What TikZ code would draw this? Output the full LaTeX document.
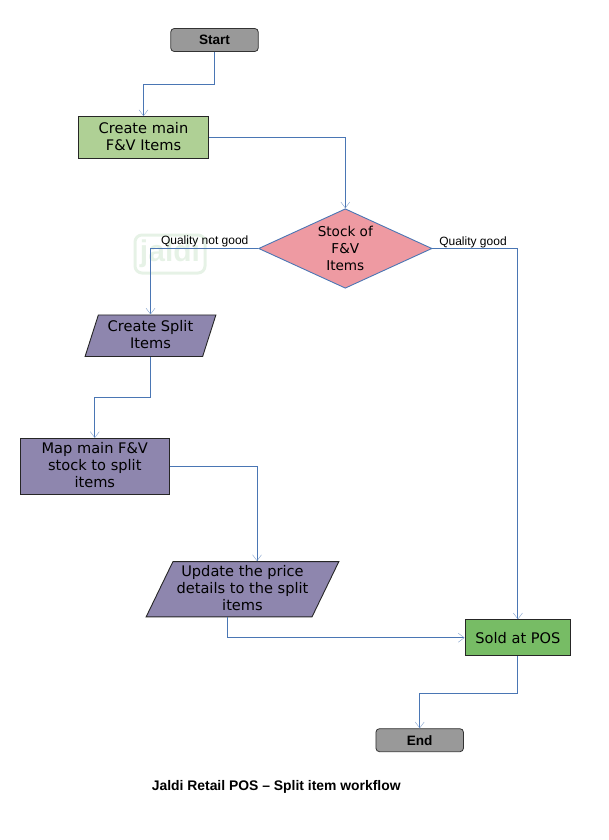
\documentclass[tikz,border=0pt]{standalone}
\usepackage{fontspec}
\setmainfont{Liberation Sans}
\newfontfamily\boxfont{DejaVu Sans}
\usepackage{tikz}
\usetikzlibrary{arrows.meta}
\usetikzlibrary{positioning}
\usetikzlibrary{shapes.geometric}
\definecolor{flowblue}{HTML}{4A76B4}
\definecolor{startgray}{HTML}{999999}
\definecolor{itemgreen}{HTML}{AFD095}
\definecolor{stockpink}{HTML}{EE9AA2}
\definecolor{splitpurple}{HTML}{8E86AE}
\definecolor{soldgreen}{HTML}{77BC65}
\definecolor{markgreen}{HTML}{E6F2E6}
\tikzset{
    flow/.style = {draw=flowblue, line width=0.9pt, -{Straight Barb[length=6pt,width=9pt,line width=0.4pt,color=flowblue!70]}},
    every node/.style = {inner sep=0pt, on grid},
}
\tikzset{
    terminal/.style={draw=black!80, fill=startgray, rounded corners=3.5pt, minimum width=87.5pt, minimum height=23pt, line width=0.8pt, font=\fontsize{13.6}{16}\selectfont\bfseries},
    itembox/.style={draw=black!85, line width=0.9pt, align=center, text depth=2pt, font=\boxfont\fontsize{14.6}{16.8}\selectfont},
    slanted/.style={itembox, shape=trapezium, trapezium stretches=true, fill=splitpurple},
    edgelabel/.style={font=\fontsize{12}{14}\selectfont},
}
\begin{document}
\begin{tikzpicture}[x=1pt,y=1pt]
    \useasboundingbox (0,0) rectangle (608,-840);
    % faint mark behind the flow
    \node(mark) at (170,-254) [draw=markgreen, line width=3pt, rounded corners=7pt, minimum width=70pt, minimum height=38pt, text=markgreen, font=\fontsize{30}{30}\selectfont\bfseries] {jaldi};
    \node(start)[terminal] at (214.5,-40) {Start};
    \node(createmain)[itembox, fill=itemgreen, minimum width=130.5pt, minimum height=41.5pt, below left=97.3pt and 71pt of start] {Create main\\F\&V Items};
    \node(stock)[diamond, draw=flowblue, fill=stockpink, line width=0.9pt, minimum width=173.4pt, minimum height=79.5pt, align=center, aspect=2.17, font=\boxfont\fontsize{13.6}{16.8}\selectfont, below right=111.2pt and 201.8pt of createmain] {Stock of\\F\&V\\Items};
    \node(createsplit)[slanted, trapezium left angle=70, trapezium right angle=110, minimum width=131pt, minimum height=41.5pt, below left=87.2pt and 194.8pt of stock] {Create Split\\Items};
    \node(mapstock)[itembox, fill=splitpurple, minimum width=149.5pt, minimum height=55.5pt, below left=130.5pt and 55.7pt of createsplit] {Map main F\&V\\stock to split\\items};
    \node(update)[slanted, trapezium left angle=61.4, trapezium right angle=118.6, minimum width=193pt, minimum height=55.3pt, below right=123pt and 147.7pt of mapstock] {Update the price\\details to the split\\items};
    \node(sold)[itembox, text depth=0pt, fill=soldgreen, minimum width=105.7pt, minimum height=35.7pt, below right=48.5pt and 275.4pt of update] {Sold at POS};
    \node(end)[terminal, below left=102.5pt and 98.2pt of sold] {End};
    \node(notgood)[edgelabel, above left=7.5pt and 140.6pt of stock] {Quality not good};
    \node(good)[edgelabel, above right=6.5pt and 127.7pt of stock] {Quality good};
    \node(title)[font=\fontsize{13.9}{16}\selectfont\bfseries, below left=46.5pt and 143.5pt of end] {Jaldi Retail POS – Split item workflow};
    \draw[flow] (start.south) -- ++(0,-33) -| (createmain.north);
    \draw[flow] (createmain.east) -| (stock.north);
    \draw[flow] (stock.west) -| (createsplit.north);
    \draw[flow] (stock.east) -| (sold.north);
    \draw[flow] (createsplit.south) -- ++(0,-41) -| (mapstock.north);
    \draw[flow] (mapstock.east) -| ([xshift=14.5pt]update.north);
    \draw[flow] ([xshift=-15.2pt]update.south) |- (sold.west);
    \draw[flow] (sold.south) -- ++(0,-37) -| (end.north);
\end{tikzpicture}
\end{document}
